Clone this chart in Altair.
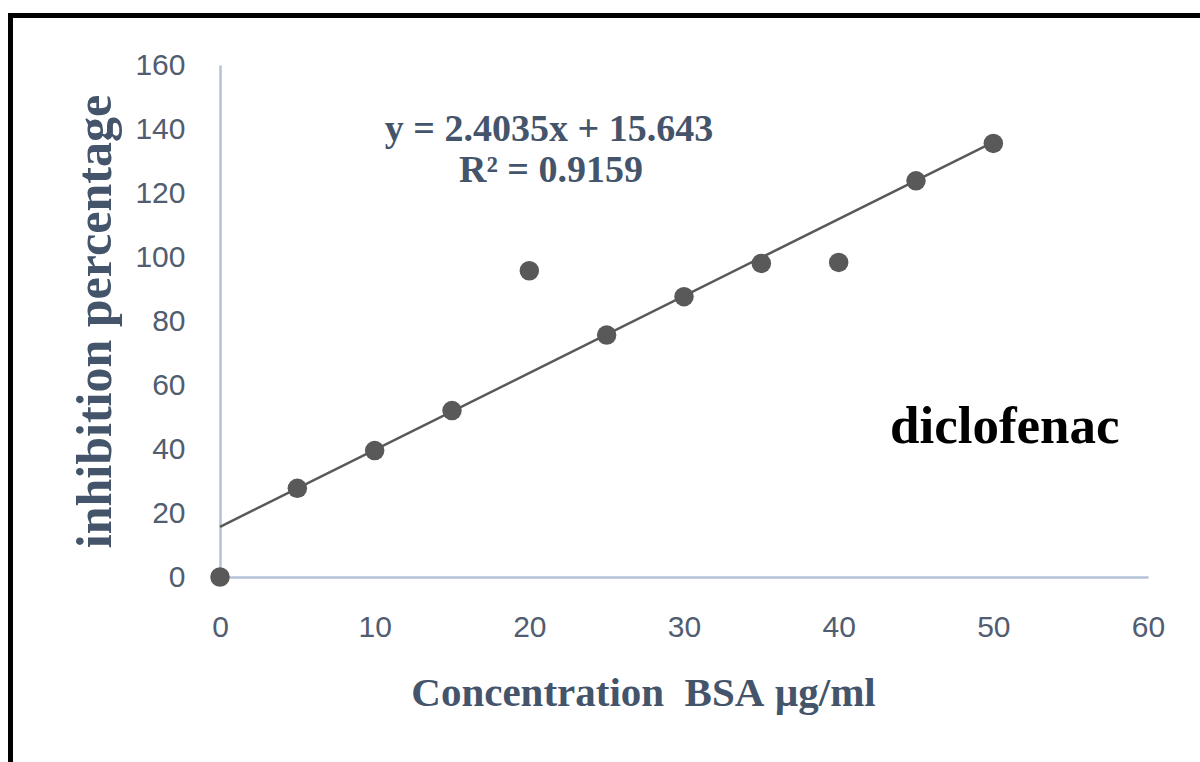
import altair as alt
import pandas as pd

# Data
conc = [0, 5, 10, 15, 20, 25, 30, 35, 40, 45, 50]
inhibition = [0, 27.7, 39.5, 52.0, 95.7, 75.6, 87.6, 98.0, 98.3, 123.8, 135.5]
eq_line1 = "y = 2.4035x + 15.643"
eq_line2 = "R² = 0.9159"
drug = "diclofenac"
x_title = "Concentration\u00a0\u00a0BSA\u00a0µg/ml"
y_title = "inhibition percentage"

df = pd.DataFrame({"conc": conc, "inh": inhibition})

AXIS_COL = "#b4c2d9"
LABEL_COL = "#515d70"
TITLE_COL = "#44546a"
MARK_COL = "#595959"

W, H = 928, 512

xscale = alt.Scale(domain=[0, 60], nice=False, zero=True)
yscale = alt.Scale(domain=[0, 160], nice=False, zero=True)

xaxis = alt.Axis(
    values=[0, 10, 20, 30, 40, 50, 60], grid=False, ticks=False,
    domainColor=AXIS_COL, domainWidth=2.5,
    labelFont="Liberation Sans", labelFontSize=30, labelColor=LABEL_COL,
    labelPadding=35, labelFlush=False,
    title=x_title, titleFont="Liberation Serif", titleFontSize=41,
    titleFontWeight="bold", titleColor=TITLE_COL,
    titleX=423, titleY=128, titleAlign="center", titleBaseline="alphabetic",
    titleAnchor="start",
)
yaxis = alt.Axis(
    values=[0, 20, 40, 60, 80, 100, 120, 140, 160], grid=False, ticks=False,
    domainColor=AXIS_COL, domainWidth=2.5,
    labelFont="Liberation Sans", labelFontSize=30, labelColor=LABEL_COL,
    labelPadding=35, labelFlush=False,
    title=y_title, titleFont="Liberation Serif", titleFontSize=50,
    titleFontWeight="bold", titleColor=TITLE_COL,
    titleX=-110, titleY=256, titleAngle=-90, titleAlign="center",
    titleBaseline="alphabetic", titleAnchor="start",
)

base = alt.Chart(df)

points = base.mark_circle(size=380, opacity=1, color=MARK_COL).encode(
    x=alt.X("conc:Q", scale=xscale, axis=xaxis),
    y=alt.Y("inh:Q", scale=yscale, axis=yaxis),
)

trend = base.transform_regression(
    "conc", "inh", method="linear", extent=[0, 50]
).mark_line(color=MARK_COL, strokeWidth=2.5).encode(
    x=alt.X("conc:Q", scale=xscale),
    y=alt.Y("inh:Q", scale=yscale),
)

eq1 = alt.Chart(pd.DataFrame({"t": [eq_line1]})).mark_text(
    font="Liberation Serif", fontSize=38, fontWeight="bold", color=TITLE_COL,
    align="center", baseline="alphabetic"
).encode(x=alt.value(329), y=alt.value(76), text="t:N")
eq2 = alt.Chart(pd.DataFrame({"t": [eq_line2]})).mark_text(
    font="Liberation Serif", fontSize=38, fontWeight="bold", color=TITLE_COL,
    align="center", baseline="alphabetic"
).encode(x=alt.value(331), y=alt.value(117), text="t:N")
drug_txt = alt.Chart(pd.DataFrame({"t": [drug]})).mark_text(
    font="Liberation Serif", fontSize=53, fontWeight="bold", color="#000000",
    align="left", baseline="alphabetic"
).encode(x=alt.value(670), y=alt.value(378), text="t:N")

# Outer frame (top and left edges visible in the reference)
frame_top = alt.Chart(pd.DataFrame({"a": [0]})).mark_rule(
    color="#000000", strokeWidth=5
).encode(x=alt.value(-212), x2=alt.value(985), y=alt.value(-49.5))
frame_left = alt.Chart(pd.DataFrame({"a": [0]})).mark_rule(
    color="#000000", strokeWidth=5
).encode(x=alt.value(-209.5), y=alt.value(-52), y2=alt.value(700))

chart = alt.layer(trend, points, eq1, eq2, drug_txt, frame_top, frame_left).properties(
    width=W, height=H,
    autosize=alt.AutoSizeParams(type="none"),
    padding={"left": 220, "top": 65, "right": 52, "bottom": 185},
    background="white",
).configure_view(stroke=None)

chart.save("out.html", embed_options={"renderer": "svg", "actions": False})
